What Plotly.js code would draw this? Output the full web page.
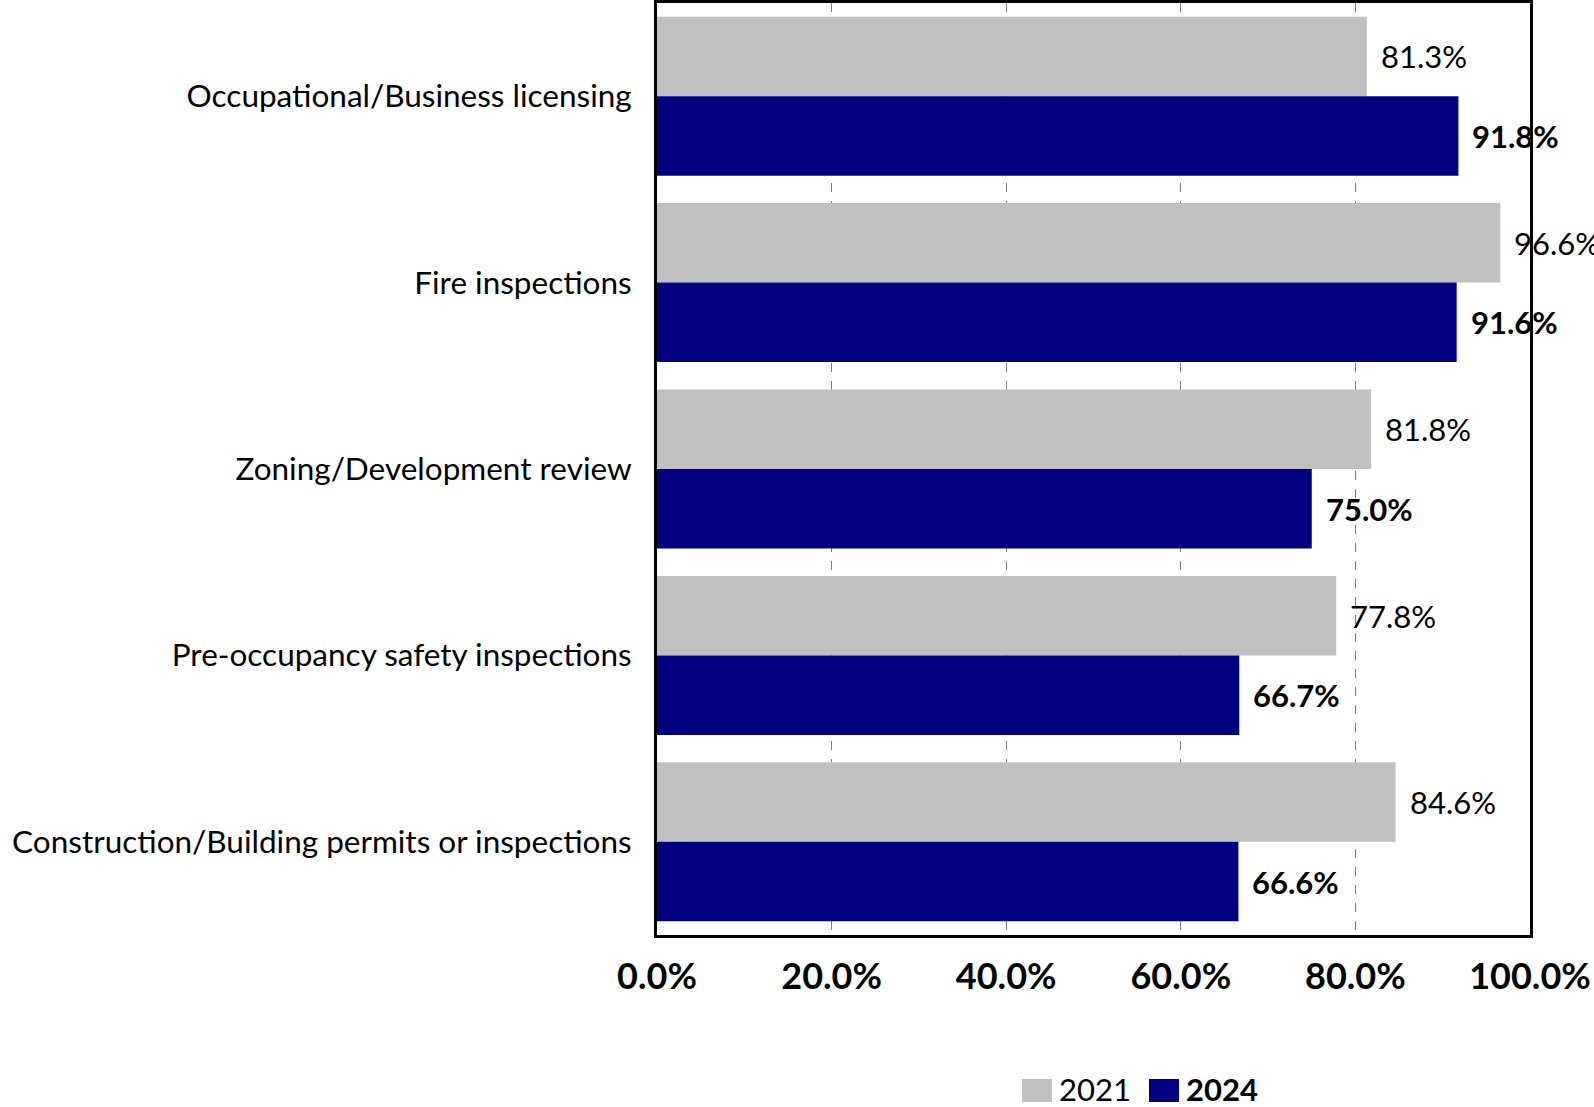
<!DOCTYPE html>
<html>
<head>
<meta charset="utf-8">
<script src="https://cdn.plot.ly/plotly-3.0.1.min.js"></script>
<style>
  html, body { margin: 0; padding: 0; background: #ffffff; }
  #chart { width: 1594px; height: 1107px; }
</style>
</head>
<body>
<div id="chart"></div>
<script>
// Service categories, listed top to bottom
const categories = [
  "Occupational/Business licensing",
  "Fire inspections",
  "Zoning/Development review",
  "Pre-occupancy safety inspections",
  "Construction/Building permits or inspections"
];

// Share of respondents (%) by survey year
const values2021 = [81.3, 96.6, 81.8, 77.8, 84.6];
const values2024 = [91.8, 91.6, 75.0, 66.7, 66.6];

const xTickVals = [0, 20, 40, 60, 80, 100];
const xTickText = xTickVals.map(v => v.toFixed(1) + "%");

const seriesNames = ["2021", "2024"];

const FONT = "Lato, 'Open Sans', sans-serif";
const GRAY = "#c0c0c0";
const NAVY = "#000080";
const BARGAP = 0.147;

const W = 1594, H = 1107;
const M = { l: 657, r: 64, t: 3, b: 172 };
const plotW = W - M.l - M.r, plotH = H - M.t - M.b;
// pixel -> paper helpers for the hand-built legend
const px = x => (x - M.l) / plotW;
const py = y => (H - M.b - y) / plotH;

const traces = [
  {
    type: "bar", orientation: "h", name: seriesNames[0],
    y: categories, x: values2021,
    marker: { color: GRAY }, hoverinfo: "x+y"
  },
  {
    type: "bar", orientation: "h", name: seriesNames[1],
    y: categories, x: values2024,
    marker: { color: NAVY }, hoverinfo: "x+y"
  }
];

// Value labels sit just past the end of each bar
const half = (1 - BARGAP) / 4;
const annotations = [];
categories.forEach((c, i) => {
  annotations.push({
    x: values2021[i], y: i - half, xref: "x", yref: "y",
    text: values2021[i].toFixed(1) + "%",
    showarrow: false, xanchor: "left", yanchor: "middle", xshift: 12,
    font: { family: FONT, size: 31, color: "#000000" }
  });
  annotations.push({
    x: values2024[i], y: i + half, xref: "x", yref: "y",
    text: "<b>" + values2024[i].toFixed(1) + "%</b>",
    showarrow: false, xanchor: "left", yanchor: "middle", xshift: 12,
    font: { family: FONT, size: 31, color: "#000000" }
  });
});

// Legend: colour swatch followed by the year
const legendItems = [
  { name: seriesNames[0], color: GRAY, x0: 1022, bold: false },
  { name: seriesNames[1], color: NAVY, x0: 1149, bold: true }
];
const shapes = [];
legendItems.forEach(it => {
  shapes.push({
    type: "rect", xref: "paper", yref: "paper",
    x0: px(it.x0), x1: px(it.x0 + 30), y0: py(1102), y1: py(1079),
    fillcolor: it.color, line: { width: 0 }
  });
  annotations.push({
    xref: "paper", yref: "paper", x: px(it.x0 + 35), y: py(1089),
    xanchor: "left", yanchor: "middle", showarrow: false,
    text: it.bold ? "<b>" + it.name + "</b>" : it.name,
    font: { family: FONT, size: 31, color: "#000000" }
  });
});

const layout = {
  width: W, height: H,
  margin: { l: M.l, r: M.r, t: M.t, b: M.b, pad: 0, autoexpand: false },
  paper_bgcolor: "#ffffff", plot_bgcolor: "#ffffff",
  barmode: "group", bargap: BARGAP, bargroupgap: 0,
  font: { family: FONT, color: "#000000" },
  xaxis: {
    range: [0, 100], tickmode: "array", tickvals: xTickVals, ticktext: xTickText,
    tickfont: { family: FONT, size: 36, color: "#000000", weight: "bold" },
    showgrid: true, gridcolor: "#7f7f7f", gridwidth: 1.3, griddash: "dash",
    zeroline: false, showline: true, linecolor: "#000000", linewidth: 3,
    mirror: true, ticks: "", ticklabelstandoff: 8, fixedrange: true
  },
  yaxis: {
    type: "category", autorange: "reversed",
    tickfont: { family: FONT, size: 31.5, color: "#000000" },
    showgrid: false, zeroline: false, showline: true,
    linecolor: "#000000", linewidth: 3, mirror: true,
    ticks: "", ticklabelstandoff: 16, fixedrange: true
  },
  showlegend: false,
  shapes: shapes,
  annotations: annotations
};

Plotly.newPlot("chart", traces, layout, { displayModeBar: false, staticPlot: true });
</script>
</body>
</html>
